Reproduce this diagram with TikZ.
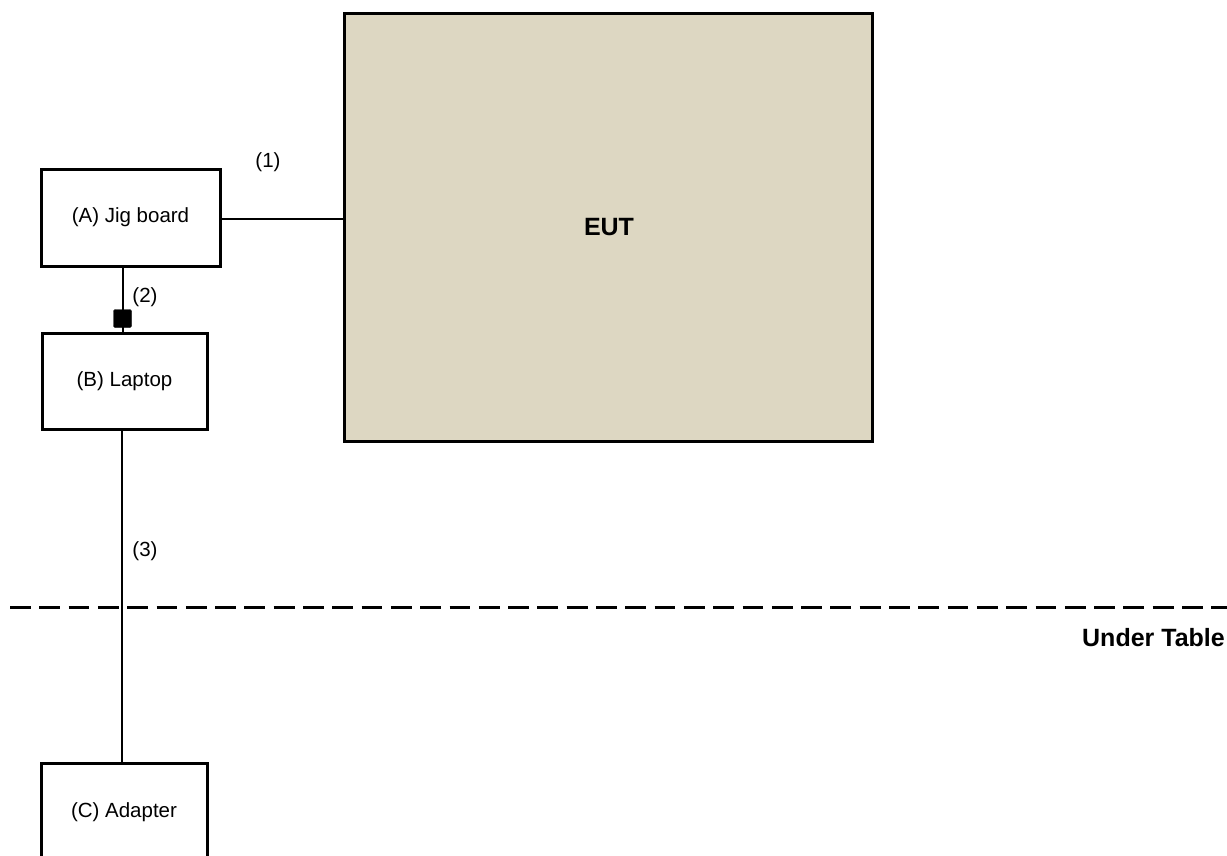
\documentclass[tikz,border=0pt]{standalone}
\usepackage{fontspec}
\setmainfont{Liberation Sans}
\definecolor{eutfill}{HTML}{DDD7C2}
\begin{document}
\begin{tikzpicture}[x=1pt,y=-1pt,
  devbox/.style={draw=black,line width=3pt,fill=white,inner sep=0pt,font=\fontsize{20.5}{24}\selectfont},
  lbl/.style={inner sep=0pt,font=\fontsize{20.5}{24}\selectfont},
  big/.style={inner sep=0pt,font=\fontsize{25}{30}\selectfont\bfseries},
  wire/.style={draw=black,line width=1.8pt}]
\useasboundingbox (0,0) rectangle (1227,855);
\node[draw=black,line width=3pt,fill=eutfill,minimum width=528pt,minimum height=428pt,inner sep=0pt] (EUT) at (608,227) {};
\node[big] (eutl) at (609,227) {EUT};
\node[devbox,minimum width=179pt,minimum height=97pt] (A) at (130.5,217.5) {(A) Jig board};
\node[devbox,minimum width=165pt,minimum height=96pt] (B) at (124.5,381) {(B) Laptop};
\node[devbox,minimum width=166pt,minimum height=98pt] (C) at (124,812) {(C) Adapter};
\draw[wire] (A.east |- 0,219) -- (EUT.west |- 0,219);
\coordinate (Atop) at (123,266);
\coordinate (Bbot) at (122,429);
\draw[wire] (Atop) -- (123,333);
\node[fill=black,draw=black,minimum size=18pt,inner sep=0pt,rounded corners=1.5pt] (sq) at (122.5,318.5) {};
\coordinate (dl) at (10,607);
\coordinate (dr) at (1227,607);
\draw[black,line width=3pt,dash pattern=on 20.8pt off 8.5pt] (dl) -- (dr);
\draw[wire] (Bbot) -- (Bbot |- C.north);
\node[lbl] (l1) at (268,162) {(1)};
\node[lbl] (l2) at (145,297) {(2)};
\node[lbl] (l3) at (145,551) {(3)};
\node[big,anchor=east] (ut) at (1225,638) {Under Table};
\end{tikzpicture}
\end{document}
